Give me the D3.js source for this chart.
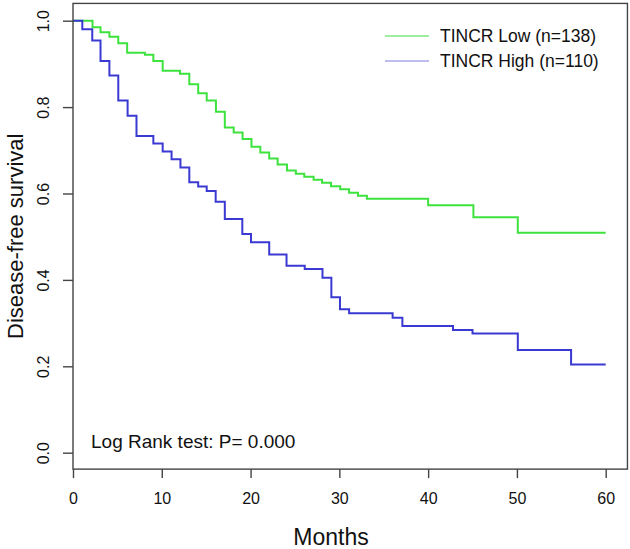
<!DOCTYPE html>
<html>
<head>
<meta charset="utf-8">
<script src="https://cdn.jsdelivr.net/npm/d3@7"></script>
<style>
  html, body { margin: 0; padding: 0; background: #fff; }
  svg { display: block; }
  text { font-family: "Liberation Sans", Arial, sans-serif; fill: #111; }
</style>
</head>
<body>
<div id="chart"></div>
<script>
// ---- data ----
const lowTimes = [0, 2.2, 3.1, 4.1, 5.1, 6.1, 8.1, 9.05, 10.1, 12.05, 13.1, 14.1, 15.06, 16.1, 17.1, 18.1, 19.1, 20.1, 21.1, 22.1, 23.05, 24.1, 25.1, 26.05, 27.1, 28.05, 29.06, 30.1, 31.1, 32.1, 33.1, 40.0, 45.1, 50.1, 60];
const lowSurv  = [1.0, 0.985, 0.973, 0.963, 0.948, 0.926, 0.921, 0.907, 0.884, 0.877, 0.853, 0.832, 0.815, 0.789, 0.753, 0.741, 0.726, 0.708, 0.695, 0.681, 0.667, 0.653, 0.646, 0.639, 0.632, 0.625, 0.617, 0.610, 0.602, 0.595, 0.588, 0.573, 0.545, 0.509, 0.509];

const highTimes = [0, 1.05, 2.17, 3.1, 4.1, 5.1, 6.15, 7.15, 9.05, 10.1, 11.1, 12.1, 13.1, 14.1, 15.06, 16.07, 17.1, 19.07, 20.05, 22.1, 24.05, 26.1, 28.1, 29.1, 30.07, 31.1, 36.0, 37.1, 42.8, 45.0, 50.1, 56.1, 60];
const highSurv  = [1.0, 0.980, 0.954, 0.907, 0.873, 0.815, 0.780, 0.733, 0.716, 0.697, 0.679, 0.660, 0.626, 0.616, 0.606, 0.581, 0.541, 0.506, 0.487, 0.459, 0.433, 0.425, 0.405, 0.360, 0.332, 0.323, 0.3125, 0.293, 0.284, 0.276, 0.238, 0.204, 0.204];

const seriesNames  = ["TINCR Low (n=138)", "TINCR High (n=110)"];
const seriesColors = ["#3ee23e", "#3a3ad2"];
const legendColors = ["#7fe87f", "#a9a9e6"];

const xTicks = [0, 10, 20, 30, 40, 50, 60];
const yTicks = [0.0, 0.2, 0.4, 0.6, 0.8, 1.0];
const xTitle = "Months";
const yTitle = "Disease-free survival";
const annotation = "Log Rank test: P= 0.000";

// ---- layout ----
const W = 630, H = 549;
const svg = d3.select("#chart").append("svg").attr("width", W).attr("height", H);

const x = d3.scaleLinear().domain([0, 60]).range([73, 605.7]);
const y = d3.scaleLinear().domain([0, 1]).range([452.7, 20.7]);

const boxL = x(0), boxR = x(62.45), boxT = y(1.04), boxB = y(-0.038);

// curves
const line = d3.line().x(d => x(d[0])).y(d => y(d[1])).curve(d3.curveStepAfter);
const series = [
  d3.zip(lowTimes, lowSurv),
  d3.zip(highTimes, highSurv)
];
series.forEach((s, i) => {
  svg.append("path").datum(s)
    .attr("d", line)
    .attr("fill", "none")
    .attr("stroke", seriesColors[i])
    .attr("stroke-width", 2);
});

// box
svg.append("rect")
  .attr("x", boxL).attr("y", boxT)
  .attr("width", boxR - boxL).attr("height", boxB - boxT)
  .attr("fill", "none").attr("stroke", "#444").attr("stroke-width", 1.4);

// x axis
const xAxis = d3.axisBottom(x).tickValues(xTicks).tickSize(9).tickPadding(15).tickFormat(d3.format("d"));
const gx = svg.append("g").attr("transform", `translate(0,${boxB})`).call(xAxis);
gx.select(".domain").remove();
gx.selectAll(".tick line").attr("stroke", "#444").attr("stroke-width", 1.4);
gx.selectAll(".tick text").attr("font-size", 16).attr("fill", "#222")
  .style("font-family", "'Liberation Sans', Arial, sans-serif");

// y axis
const yAxis = d3.axisLeft(y).tickValues(yTicks).tickSize(10).tickFormat(d3.format(".1f"));
const gy = svg.append("g").attr("transform", `translate(${boxL},0)`).call(yAxis);
gy.select(".domain").remove();
gy.selectAll(".tick line").attr("stroke", "#444").attr("stroke-width", 1.4);
gy.selectAll(".tick text")
  .attr("font-size", 16).attr("fill", "#222")
  .attr("x", null).attr("dy", null)
  .attr("text-anchor", "middle")
  .attr("transform", "translate(-24,0) rotate(-90)")
  .style("font-family", "'Liberation Sans', Arial, sans-serif");

// titles
svg.append("text").attr("x", 331).attr("y", 545)
  .attr("text-anchor", "middle").attr("font-size", 23).text(xTitle);
svg.append("text")
  .attr("transform", `translate(23,${(boxT + boxB) / 2}) rotate(-90)`)
  .attr("text-anchor", "middle").attr("font-size", 22).text(yTitle);

// annotation
svg.append("text").attr("x", 91).attr("y", 448).attr("font-size", 19).text(annotation);

// legend
const legY = [36, 61];
seriesNames.forEach((name, i) => {
  svg.append("line")
    .attr("x1", 385).attr("x2", 429)
    .attr("y1", legY[i]).attr("y2", legY[i])
    .attr("stroke", legendColors[i]).attr("stroke-width", 1.3);
  svg.append("text")
    .attr("x", 440).attr("y", legY[i]).attr("dy", "0.36em")
    .attr("font-size", 17.5).text(name);
});
</script>
</body>
</html>
